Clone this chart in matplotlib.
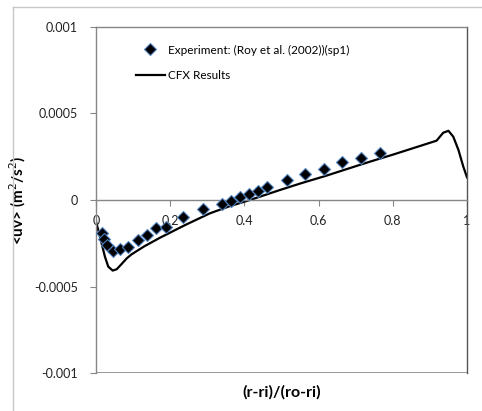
import numpy as np
import matplotlib
matplotlib.use('Agg')
from matplotlib import pyplot as plt
from matplotlib.lines import Line2D

plt.rcParams['font.family'] = ['Lato', 'DejaVu Sans']

# experiment (Roy et al. 2002), sp1
exp_x = [0.017, 0.022, 0.030, 0.045, 0.065, 0.087, 0.114, 0.137, 0.161, 0.188,
         0.235, 0.289, 0.339, 0.365, 0.388, 0.412, 0.437, 0.462, 0.514, 0.564,
         0.614, 0.664, 0.713, 0.765]
exp_y = [-1.93, -2.27, -2.60, -2.93, -2.85, -2.70, -2.31, -2.02, -1.64, -1.56,
         -0.97, -0.52, -0.23, -0.04, 0.16, 0.35, 0.54, 0.75, 1.16, 1.50,
         1.77, 2.17, 2.45, 2.73]

# CFX results
cfx_x = [0.0, 0.006, 0.015, 0.024, 0.033, 0.045, 0.056, 0.069, 0.083, 0.096,
         0.13, 0.1725, 0.24, 0.307, 0.36, 0.415, 0.496, 0.55, 0.62, 0.685,
         0.739, 0.80, 0.873, 0.918, 0.936, 0.95, 0.963, 0.977, 0.99, 1.0]
cfx_y = [-1.25, -1.73, -2.50, -3.27, -3.85, -4.08, -4.00, -3.70, -3.37, -3.14,
         -2.68, -2.18, -1.45, -0.77, -0.36, 0.0, 0.58, 0.95, 1.40, 1.85,
         2.22, 2.62, 3.12, 3.43, 3.89, 4.00, 3.66, 2.89, 1.93, 1.31]

exp_y = np.array(exp_y) * 1e-4
cfx_y = np.array(cfx_y) * 1e-4

W, H = 482, 411
fig = plt.figure(figsize=(W / 100, H / 100), dpi=100)
ax = fig.add_axes([96 / W, 1 - 373 / H, (467 - 96) / W, (373 - 27) / H])

# outer chart frame
fig.add_artist(Line2D([13 / W, 13 / W], [1 - 7 / H, 0], color='#c8c8c8', lw=1))
fig.add_artist(Line2D([13 / W, 1], [1 - 7 / H, 1 - 7 / H], color='#c8c8c8', lw=1))

ax.plot(exp_x, exp_y, linestyle='none', marker='D', ms=6, mfc='black',
        mec='#4f81bd', mew=0.8, label='Experiment: (Roy et al. (2002))(sp1)', zorder=3)
ax.plot(cfx_x, cfx_y, color='black', lw=1.6, label='CFX Results', zorder=2)

ax.set_xlim(0, 1)
ax.set_ylim(-0.001, 0.001)
ax.set_yticks([-0.001, -0.0005, 0, 0.0005, 0.001])
ax.set_yticklabels(['-0.001', '-0.0005', '0', '0.0005', '0.001'])
ax.set_xticks([0, 0.2, 0.4, 0.6, 0.8, 1])
ax.set_xticklabels(['0', '0.2', '0.4', '0.6', '0.8', '1'])

for s in ax.spines.values():
    s.set_color('#868686')
    s.set_linewidth(1)
ax.spines['bottom'].set_position(('data', 0))
ax.axhline(-0.001, color='#868686', lw=1.2, zorder=1)
ax.spines['right'].set_color('#555555')

ax.tick_params(axis='both', colors='#868686', labelcolor='#222222',
               labelsize=9, length=4, direction='out')
ax.tick_params(axis='y', pad=9)
ax.tick_params(axis='x', pad=7)

ax.set_ylabel('<uv> (m$^2$/s$^2$)', fontsize=11, fontweight='bold')
ax.yaxis.set_label_coords(-0.183, 0.5)
ax.text(0.5, -0.035, '(r-ri)/(ro-ri)', transform=ax.transAxes, ha='center',
        va='top', fontsize=11.5, fontweight='bold')

ax.legend(loc='upper left', bbox_to_anchor=(0.08, 0.98), frameon=False,
          fontsize=8.5, handlelength=2.4, handletextpad=0.3, labelspacing=1.2)

fig.savefig('out.png', dpi=100)
